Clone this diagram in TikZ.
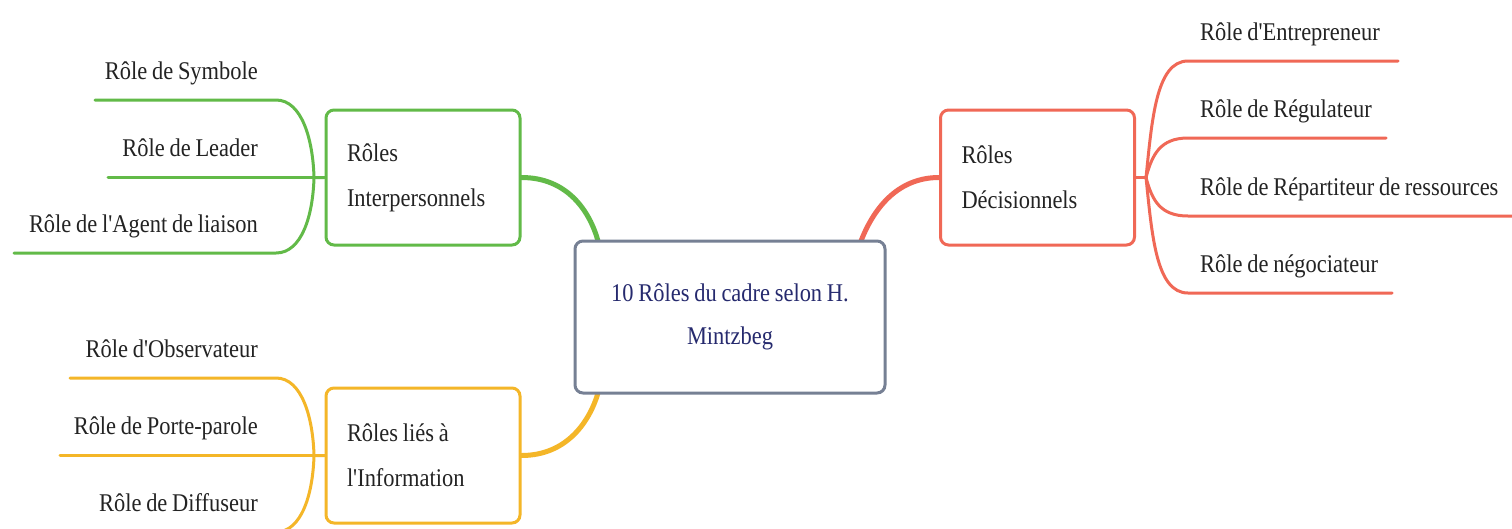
\documentclass[tikz,border=0pt]{standalone}
\usepackage{fontspec}
\setmainfont[FakeStretch=0.88, WordSpace=0.85, Ligatures=TeXOff]{Liberation Serif}
\pgfdeclarelayer{back}
\pgfdeclarelayer{bg}
\pgfsetlayers{back,bg,main}
\definecolor{cgreen}{RGB}{98,186,72}
\definecolor{cred}{RGB}{240,104,86}
\definecolor{cyel}{RGB}{244,182,40}
\definecolor{cgray}{RGB}{118,128,148}
\definecolor{cnavy}{RGB}{38,42,110}
\definecolor{ctxt}{RGB}{35,35,35}
\newcommand\leaffont{\fontsize{25.5}{30}\selectfont}
\newcommand\boxfont{\fontsize{25.5}{45}\selectfont}
\newcommand\cenfont{\fontsize{25.5}{43}\selectfont}
\tikzset{
  leaf/.style={font=\leaffont, text=ctxt, inner sep=0pt},
  branchbox/.style={draw=#1, line width=3pt, rounded corners=8pt, fill=white,
    minimum width=194pt, minimum height=135pt, text width=152pt, inner xsep=21pt,
    inner ysep=0pt, align=flush left, font=\boxfont, text=ctxt},
  centerbox/.style={draw=cgray, line width=3pt, rounded corners=8pt, fill=white,
    minimum width=310pt, minimum height=152pt, text width=280pt, inner xsep=15pt,
    align=flush center, font=\cenfont, text=cnavy},
  thin/.style={draw=#1, line width=3pt, line cap=round},
  thick/.style={draw=#1, line width=5pt, line cap=round},
}
\begin{document}
\begin{tikzpicture}[x=1pt,y=-1pt]
\useasboundingbox (0,0) rectangle (1512,528);
\clip (0,0) rectangle (1512,528);
\begin{pgfonlayer}{back}
\fill[white] (0,0) rectangle (1512,528);
\end{pgfonlayer}

% central and branch boxes
\node[centerbox] (c) at (730,317) {10 Rôles du cadre selon H.\\Mintzbeg};
\node[branchbox=cgreen] (gi) at (423,177.5) {Rôles\\Interpersonnels};
\node[branchbox=cyel] (yi) at (423,455.5) {Rôles liés à\\l'Information};
\node[branchbox=cred] (ri) at (1037.5,177.5) {Rôles\\Décisionnels};

% leaf texts
\node[leaf, anchor=base east] (g1) at (258,79) {Rôle de Symbole};
\node[leaf, anchor=base east] (g2) at (258,156) {Rôle de Leader};
\node[leaf, anchor=base east] (g3) at (258,232) {Rôle de l'Agent de liaison};
\node[leaf, anchor=base east] (y1) at (258,357) {Rôle d'Observateur};
\node[leaf, anchor=base east] (y2) at (258,434) {Rôle de Porte-parole};
\node[leaf, anchor=base east] (y3) at (258,511) {Rôle de Diffuseur};
\node[leaf, anchor=base west] (r1) at (1200,40) {Rôle d'Entrepreneur};
\node[leaf, anchor=base west] (r2) at (1200,117) {Rôle de Régulateur};
\node[leaf, anchor=base west] (r3) at (1200,195) {Rôle de Répartiteur de ressources};
\node[leaf, anchor=base west] (r4) at (1200,272) {Rôle de négociateur};

% coordinates
\coordinate (gJ) at (314,177.5);
\coordinate (yJ) at (314,455.5);
\coordinate (rJ) at (1146,177.5);
\coordinate (cg) at (598,241);
\coordinate (cy) at (598,393);
\coordinate (cr) at (861,241);
\coordinate (g1a) at (95,100);   \coordinate (g1b) at (276,100);
\coordinate (g2a) at (108,177.5);
\coordinate (g3a) at (14,253);   \coordinate (g3b) at (276,253);
\coordinate (y1a) at (70,378);   \coordinate (y1b) at (276,378);
\coordinate (y2a) at (60,455.5);
\coordinate (y3a) at (40,532);   \coordinate (y3b) at (276,532);
\coordinate (r1a) at (1188,61);  \coordinate (r1b) at (1398,61);
\coordinate (r2a) at (1188,138); \coordinate (r2b) at (1386,138);
\coordinate (r3a) at (1188,216); \coordinate (r3b) at (1520,216);
\coordinate (r4a) at (1188,293); \coordinate (r4b) at (1392,293);

\begin{pgfonlayer}{bg}
% central connectors
\draw[thick=cgreen] (gi.east) .. controls (568,177.5) and (590,212) .. (cg);
\draw[thick=cyel] (yi.east) .. controls (568,455.5) and (590,420) .. (cy);
\draw[thick=cred] (cr) .. controls (875,205) and (900,177.5) .. (ri.west);
% green leaves
\draw[thin=cgreen] (g1a) -- (g1b) .. controls (302,100) and (313,140) .. (gJ) -- (gi.west);
\draw[thin=cgreen] (g2a) -- (gi.west);
\draw[thin=cgreen] (g3a) -- (g3b) .. controls (302,253) and (313,215) .. (gJ);
% yellow leaves
\draw[thin=cyel] (y1a) -- (y1b) .. controls (302,378) and (313,418) .. (yJ) -- (yi.west);
\draw[thin=cyel] (y2a) -- (yi.west);
\draw[thin=cyel] (y3a) -- (y3b) .. controls (302,532) and (313,493) .. (yJ);
% red leaves
\draw[thin=cred] (ri.east) -- (rJ);
\draw[thin=cred] (rJ) .. controls (1152,120) and (1156,61) .. (r1a) -- (r1b);
\draw[thin=cred] (rJ) .. controls (1152,155) and (1160,138) .. (r2a) -- (r2b);
\draw[thin=cred] (rJ) .. controls (1152,200) and (1160,216) .. (r3a) -- (r3b);
\draw[thin=cred] (rJ) .. controls (1152,235) and (1156,293) .. (r4a) -- (r4b);
\end{pgfonlayer}
\end{tikzpicture}
\end{document}
